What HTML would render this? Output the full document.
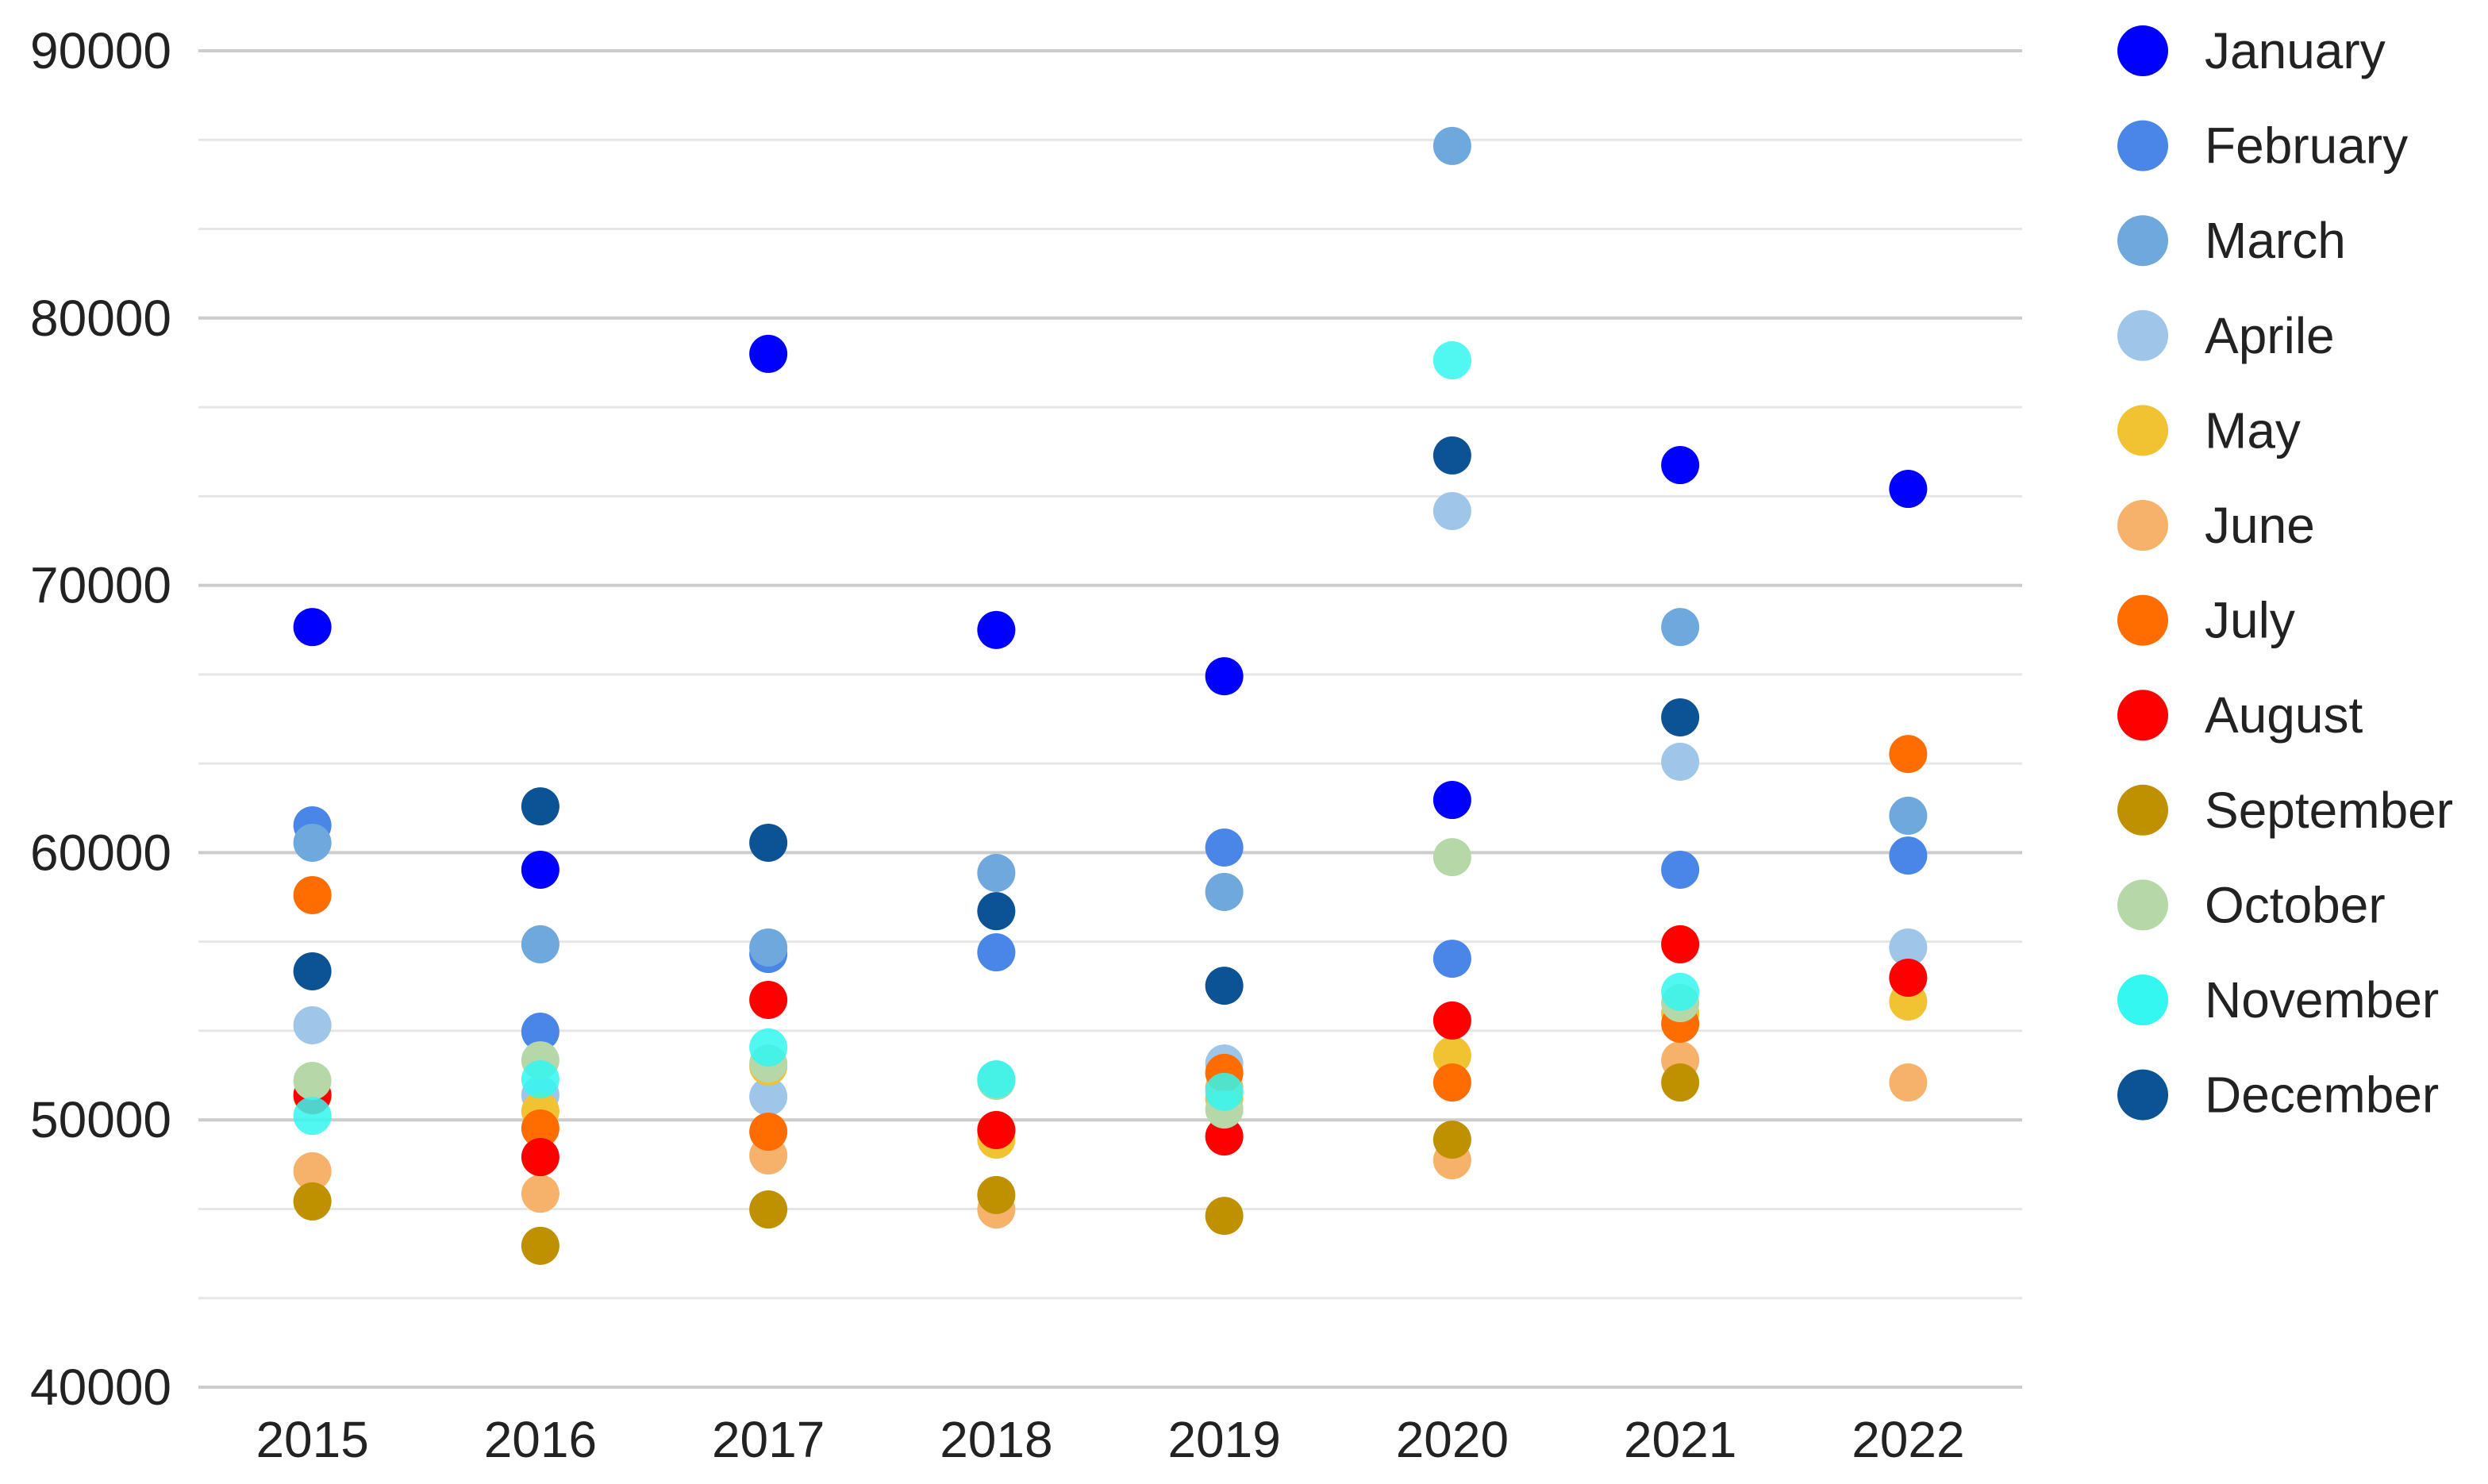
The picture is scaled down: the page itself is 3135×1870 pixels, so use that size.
<!DOCTYPE html>
<html><head><meta charset="utf-8"><style>
html,body{margin:0;padding:0;background:#fff;}
svg{display:block;font-family:"Liberation Sans",Arial,sans-serif;}
</style></head><body>
<svg id="chart" width="3135" height="1870" viewBox="0 0 3135 1870" xmlns="http://www.w3.org/2000/svg">
<g id="grid"></g>
<g id="yticks"></g>
<g id="xticks"></g>
<g id="points"></g>
<g id="legend"></g>
</svg>
<script>
const years = ["2015","2016","2017","2018","2019","2020","2021","2022"];
const months = ["January","February","March","Aprile","May","June","July","August","September","October","November","December"];
const colors = ["#0000ff","#4a86e8","#6fa8dc","#9fc5e8","#f1c232","#f6b26b","#ff6d01","#ff0000","#bf9000","#b6d7a8","#33f7f0","#0b5394"];
const yTicks = [40000,50000,60000,70000,80000,90000];
const january   = [68440,59360,78660,68330,66600,61970,74500,73610];
const february  = [61020,53300,56210,56270,60190,56030,59360,59890];
const march     = [60370,56570,56450,59240,58530,86440,68440,61380];
const aprile    = [53540,50930,50870,51500,52110,72780,63400,56450];
const may       = [50900,50330,52000,49260,50800,52410,54000,54430];
const june      = [48080,47240,48670,46650,51200,48490,52230,51400];
const july      = [58410,49680,49560,49620,51760,51400,53600,63690];
const august    = [50930,48610,54490,49620,49380,53720,56570,55320];
const september = [46950,45290,46650,47190,46410,49260,51400,null];
const october   = [51460,52230,52110,51460,50390,59830,54370,null];
const november  = [50150,51520,52710,51520,51050,78420,54790,null];
const december  = [55560,61730,60370,57810,55020,74860,65060,null];
const series = [january,february,march,aprile,may,june,july,august,september,october,november,december];

const NS="http://www.w3.org/2000/svg";
const X0=250, X1=2548, Y0=1748, Y1=64, VMIN=40000, VMAX=90000;
const band=(X1-X0)/years.length;
const xScale=i=>X0+band*(i+0.5);
const yScale=v=>Y0-(v-VMIN)/(VMAX-VMIN)*(Y0-Y1);
function mk(tag,attrs,parent){const e=document.createElementNS(NS,tag);for(const k in attrs)e.setAttribute(k,attrs[k]);parent.appendChild(e);return e;}
const grid=document.getElementById('grid');
for(let k=0;k<=15;k++){
  const v=VMIN+k*(VMAX-VMIN)/15;
  const major=k%3===0;
  const l=mk('line',{x1:X0,x2:X1,y1:yScale(v),y2:yScale(v),stroke:major?'#cccccc':'#e6e6e6','stroke-width':major?4:3},grid);
  
  
}
const yt=document.getElementById('yticks');
yTicks.forEach(v=>{
  const t=mk('text',{x:216,y:yScale(v)+22,'text-anchor':'end','font-size':64,fill:'#222'},yt);
  t.textContent=v;
  
  
});
const xt=document.getElementById('xticks');
years.forEach((y,i)=>{
  const t=mk('text',{x:xScale(i),y:1836,'text-anchor':'middle','font-size':64,fill:'#222'},xt);
  t.textContent=y;
  
  
});
const pts=document.getElementById('points');
series.forEach((s,m)=>{
  s.forEach((v,i)=>{
    if(v==null)return;
    const c=mk('circle',{cx:xScale(i),cy:yScale(v),r:24,fill:colors[m],'fill-opacity':m===10?0.85:1},pts);
    
    
  });
});
const lg=document.getElementById('legend');
months.forEach((m,k)=>{
  const cy=64+k*119.6;
  const g=mk('g',{},lg);
  
  
  mk('circle',{cx:2700,cy:cy,r:32,fill:colors[k]},g);
  const t=mk('text',{x:2778,y:cy+22,'font-size':64,fill:'#222'},g);
  t.textContent=m;
});
</script>
</body></html>
